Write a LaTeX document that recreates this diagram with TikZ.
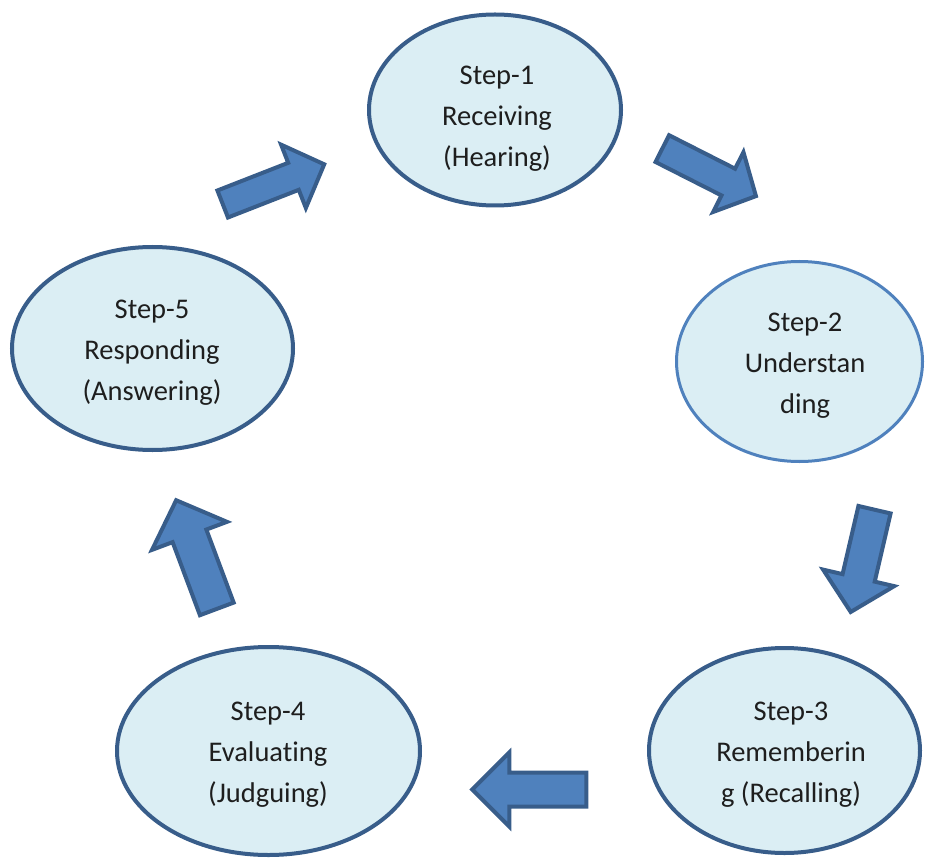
\documentclass[tikz,border=0pt]{standalone}
\usepackage{fontspec}
\setmainfont[Ligatures=NoCommon]{Carlito}
\usetikzlibrary{shapes.geometric}
\definecolor{ellfill}{HTML}{DBEEF4}
\definecolor{darkline}{HTML}{385D8A}
\definecolor{lightline}{HTML}{4F81BD}
\definecolor{arrfill}{HTML}{4F81BD}
\definecolor{txt}{HTML}{1E1E1E}
\tikzset{
  stepell/.style={ellipse, draw=darkline, line width=4pt, fill=ellfill, inner sep=0pt},
  steptext/.style={align=center, text=txt, font=\fontsize{28.5}{41}\selectfont, inner sep=0pt},
  blockarrow/.style={fill=arrfill, draw=darkline, line width=4pt, line join=miter},
  pics/barrow/.style args={#1/#2/#3/#4}{code={
    \draw[blockarrow] (0,{#2/2}) -- ({#1-#4},{#2/2}) -- ({#1-#4},{#3/2}) -- (#1,0)
      -- ({#1-#4},{-#3/2}) -- ({#1-#4},{-#2/2}) -- (0,{-#2/2}) -- cycle;
  }}
}
\begin{document}
\begin{tikzpicture}[x=1pt,y=-1pt]
\useasboundingbox (0,0) rectangle (928,858);
% ellipses
\node[stepell, minimum width=252pt, minimum height=191pt] (s1) at (495,110) {};
\node[stepell, draw=lightline, line width=3pt, minimum width=246pt, minimum height=200pt] (s2) at (799.5,361.5) {};
\node[stepell, minimum width=271pt, minimum height=205pt] (s3) at (784.5,750.5) {};
\node[stepell, minimum width=303pt, minimum height=208pt] (s4) at (268.5,751) {};
\node[stepell, minimum width=281pt, minimum height=203pt] (s5) at (152.5,348.5) {};
% texts
\node[steptext] (t1) at (497,119) {Step-1\\Receiving\\(Hearing)};
\node[steptext] (t2) at (805,366) {Step-2\\Understan\\ding};
\node[steptext] (t3) at (791,755) {Step-3\\Rememberin\\g (Recalling)};
\node[steptext] (t4) at (268,755) {Step-4\\Evaluating\\(Judguing)};
\node[steptext] (t5) at (152,353) {Step-5\\Responding\\(Answering)};
% block arrows
\coordinate (a51) at (222.7,204.0);
\coordinate (a12) at (662.3,148.6);
\coordinate (a23) at (874.5,509.7);
\coordinate (a34) at (586.3,789.5);
\coordinate (a45) at (216.8,608.9);
\pic[rotate=21.35] at (a51) {barrow=109/29/68/33};
\pic[rotate=-26.9] at (a12) {barrow=105/30/67/31};
\pic[rotate=-103.1] at (a23) {barrow=105/33/73/35};
\pic[rotate=180] at (a34) {barrow=114/34/74/37};
\pic[rotate=110.5] at (a45) {barrow=116/36/80/38};
\end{tikzpicture}
\end{document}
